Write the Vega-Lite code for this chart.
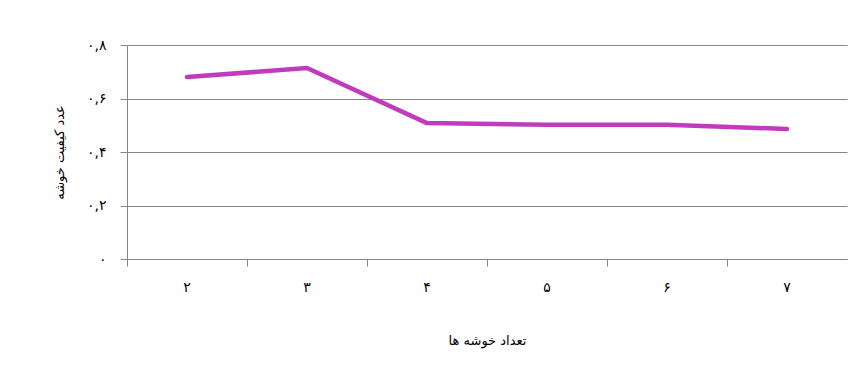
{
  "$schema": "https://vega.github.io/schema/vega-lite/v6.json",
  "autosize": "none",
  "width": 720,
  "height": 214,
  "padding": {"left": 127, "top": 45, "right": 15, "bottom": 121},
  "background": "white",
  "config": {
    "view": {"stroke": null},
    "font": "DejaVu Sans"
  },
  "data": {
    "values": [
      {"k": "۲", "v": 0.68},
      {"k": "۳", "v": 0.714},
      {"k": "۴", "v": 0.508},
      {"k": "۵", "v": 0.502},
      {"k": "۶", "v": 0.502},
      {"k": "۷", "v": 0.486}
    ]
  },
  "mark": {"type": "line", "color": "#C13BBE", "strokeWidth": 4.5, "strokeCap": "round", "strokeJoin": "round"},
  "encoding": {
    "x": {
      "field": "k",
      "type": "nominal",
      "sort": null,
      "scale": {"type": "band", "paddingInner": 0, "paddingOuter": 0},
      "axis": {
        "title": "تعداد خوشه ها",
        "titleFont": "DejaVu Sans",
        "titleFontSize": 13,
        "titleFontWeight": "normal",
        "titleColor": "#000000",
        "titlePadding": 40,
        "labelAngle": 0,
        "labelFontSize": 14,
        "labelColor": "#000000",
        "labelPadding": 14,
        "bandPosition": 0,
        "tickColor": "#868686",
        "tickSize": 7,
        "domainColor": "#868686",
        "grid": false
      }
    },
    "y": {
      "field": "v",
      "type": "quantitative",
      "scale": {"domain": [0, 0.8], "nice": false},
      "axis": {
        "title": "عدد کیفیت خوشه",
        "titleFont": "DejaVu Sans",
        "titleFontSize": 13,
        "titleFontWeight": "normal",
        "titleColor": "#000000",
        "titlePadding": 20,
        "values": [0, 0.2, 0.4, 0.6, 0.8],
        "labelExpr": "datum.value == 0 ? '۰' : '۰,' + ['','','۲','','۴','','۶','','۸'][round(datum.value*10)]",
        "labelFontSize": 14,
        "labelColor": "#000000",
        "labelPadding": 14,
        "tickColor": "#868686",
        "tickSize": 7,
        "domainColor": "#868686",
        "grid": true,
        "gridColor": "#868686",
        "gridOpacity": 1
      }
    }
  }
}
